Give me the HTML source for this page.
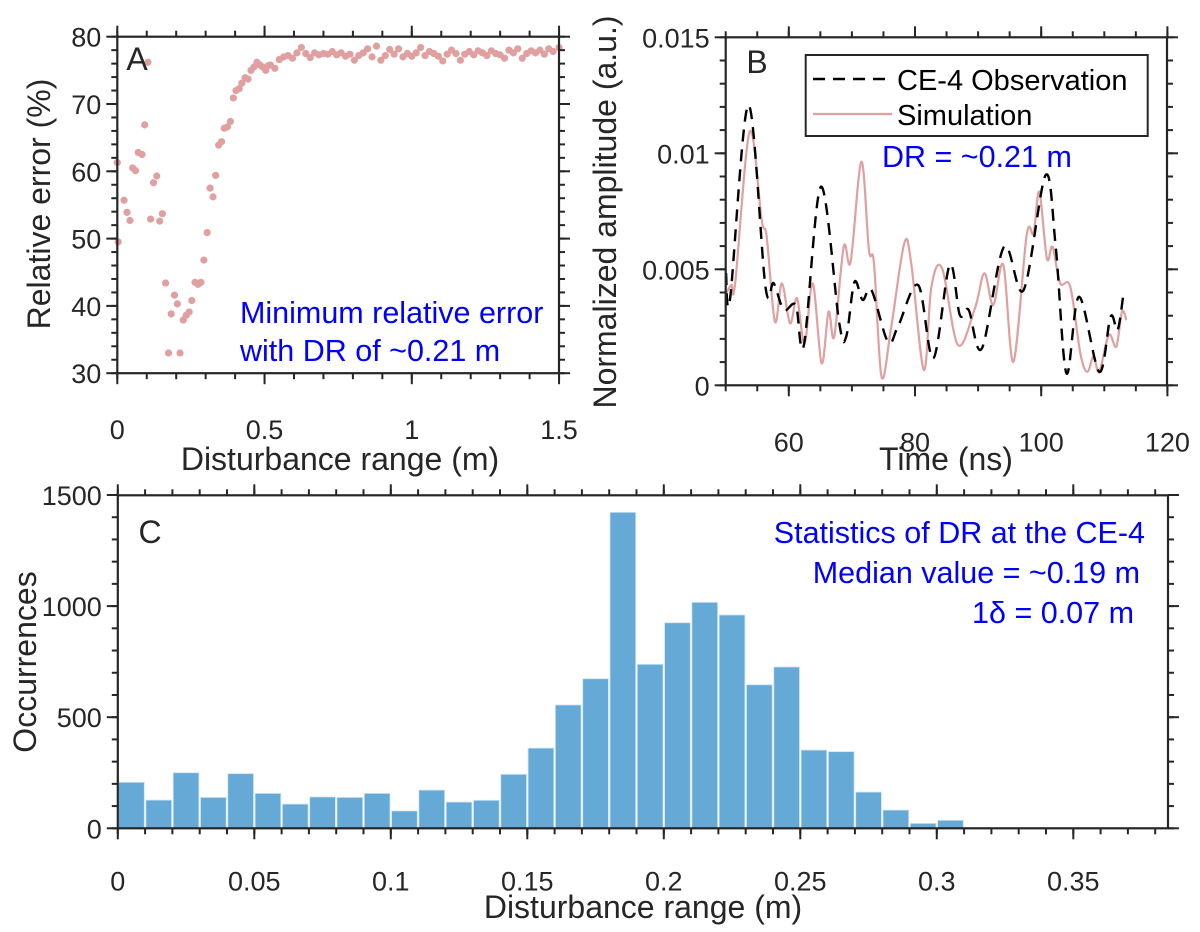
<!DOCTYPE html>
<html><head><meta charset="utf-8"><style>
html,body{margin:0;padding:0;background:#fff;}
svg{display:block;font-family:"Liberation Sans",Arial,sans-serif;}
</style></head><body>
<svg id="fig" width="1200" height="932" viewBox="0 0 1200 932"></svg>
<script>
// ---------- Panel A data ----------
const aX = [0.0,0.003,0.023,0.033,0.043,0.052,0.062,0.071,0.084,0.093,0.104,0.113,0.123,0.134,0.144,0.153,0.164,0.174,0.183,0.194,0.204,0.213,0.224,0.234,0.244,0.253,0.264,0.274,0.284,0.294,0.305,0.315,0.325,0.334,0.344,0.354,0.363,0.374,0.384,0.394,0.403,0.414,0.423,0.434,0.444,0.454,0.464,0.474,0.484,0.494,0.504,0.513,0.52,0.535,0.55,0.565,0.58,0.595,0.61,0.625,0.64,0.655,0.67,0.685,0.70,0.715,0.73,0.745,0.76,0.775,0.79,0.805,0.82,0.835,0.85,0.865,0.88,0.895,0.91,0.925,0.94,0.955,0.97,0.985,1.0,1.015,1.03,1.045,1.06,1.075,1.09,1.105,1.12,1.135,1.15,1.165,1.18,1.195,1.21,1.225,1.24,1.255,1.27,1.285,1.30,1.315,1.33,1.345,1.36,1.375,1.39,1.405,1.42,1.435,1.45,1.465,1.48,1.50];
const aY = [61.3,49.5,55.7,53.9,52.7,60.5,60.1,62.8,62.5,66.9,76.2,52.9,58.3,59.3,52.6,53.7,43.4,33.0,38.8,41.6,40.3,33.0,37.9,38.6,39.1,40.8,43.5,43.2,43.5,46.8,50.9,57.5,56.2,59.4,63.9,64.4,66.4,66.6,67.4,70.9,72.0,72.3,73.1,73.9,73.7,75.0,75.5,76.2,75.8,75.5,75.0,75.7,75.8,75.3,76.6,77.0,77.2,76.8,77.6,78.4,77.5,76.9,77.6,77.3,77.5,77.4,77.8,77.3,77.6,77.1,77.4,76.5,77.2,77.6,78.2,77.0,78.6,76.5,77.2,78.1,77.4,78.2,77.0,77.5,77.1,77.6,78.4,77.2,77.8,77.5,77.1,76.4,77.4,78.0,77.5,76.5,77.4,77.8,77.3,77.9,77.6,77.2,77.9,77.5,77.3,76.8,78.0,77.6,78.2,76.8,77.5,77.9,77.6,78.0,77.4,78.2,77.8,78.4];
const aXTicks = [0,0.5,1,1.5];
const aXTickLabels = ["0","0.5","1","1.5"];
const aYTicks = [30,40,50,60,70,80];
// ---------- Panel B data ----------
const obsT = [50.05,50.7,53.6,56.3,57.6,59.2,61.1,62.4,65.1,68.0,69.1,70.4,71.7,73.1,75.7,77.3,80.5,82.9,85.5,87.1,88.5,90.6,94.1,97.2,100.7,102.3,104.0,106.0,109.2,111.0,112.1,113.0];
const obsA = [0.00483,0.00375,0.01208,0.00425,0.0044,0.00325,0.00346,0.00174,0.00856,0.00267,0.0021,0.00445,0.00368,0.0041,0.00188,0.00253,0.00432,0.00116,0.00519,0.00303,0.00325,0.00159,0.00597,0.0041,0.00906,0.00597,0.00052,0.00382,0.00058,0.00296,0.00238,0.00387];
const simT = [50.05,50.9,51.5,53.8,55.7,56.5,57.8,58.9,60.2,61.3,62.5,63.8,65.2,66.3,67.2,68.7,69.8,71.5,72.7,73.5,74.7,76.2,78.3,79.4,81.4,82.6,84.3,86.8,89.5,91.0,92.4,94.0,95.6,97.7,98.8,99.7,100.9,101.8,103.0,104.6,106.2,107.3,108.3,109.2,110.7,111.9,112.8,113.5];
const simA = [0.00397,0.00433,0.0044,0.01093,0.00713,0.0064,0.00274,0.00439,0.00267,0.00375,0.00181,0.00439,0.00095,0.00317,0.0021,0.00597,0.00533,0.00964,0.00583,0.00526,0.00037,0.00246,0.00612,0.00526,0.00066,0.00425,0.00504,0.00174,0.00332,0.00483,0.00346,0.00519,0.00102,0.00648,0.00655,0.00834,0.00547,0.00597,0.0044,0.00425,0.00138,0.00058,0.00124,0.00058,0.00217,0.00167,0.00317,0.00281];
const bXTicks = [60,80,100,120];
const bYTicks = [0,0.005,0.01,0.015];
const bYTickLabels = ["0","0.005","0.01","0.015"];
// ---------- Panel C data ----------
const binStarts = [0,0.01,0.02,0.03,0.04,0.05,0.06,0.07,0.08,0.09,0.10,0.11,0.12,0.13,0.14,0.15,0.16,0.17,0.18,0.19,0.20,0.21,0.22,0.23,0.24,0.25,0.26,0.27,0.28,0.29,0.30];
const binCounts = [207,127,250,139,246,157,109,141,139,157,78,172,118,126,243,361,555,673,1422,738,925,1017,960,646,726,352,345,163,82,22,36];
const binWidth = 0.01;
const cXTicks = [0,0.05,0.1,0.15,0.2,0.25,0.3,0.35];
const cXTickLabels = ["0","0.05","0.1","0.15","0.2","0.25","0.3","0.35"];
const cYTicks = [0,500,1000,1500];

const NS="http://www.w3.org/2000/svg";
const svg=document.getElementById('fig');
function el(tag,attrs,parent){const e=document.createElementNS(NS,tag);for(const k in attrs)e.setAttribute(k,attrs[k]);(parent||svg).appendChild(e);return e;}
function txt(s,x,y,size,anchor,fill,parent,rot){const t=el('text',{x:x,y:y,'font-size':size,'text-anchor':anchor||'middle',fill:fill||'#262626'},parent);if(rot)t.setAttribute('transform','rotate(-90 '+x+' '+y+')');t.textContent=s;return t;}
const AX='#262626';
const TICK=27, LAB=32, ANN=30.5;

function axes(g,L,T,R,B,xmap,ymap,xt,xtl,yt,ytl,xminor,yminor,xoff){
  el('rect',{x:L,y:T,width:R-L,height:B-T,fill:'none',stroke:AX,'stroke-width':2.2},g);
  xminor.forEach(v=>{const x=xmap(v);el('line',{x1:x,y1:B,x2:x,y2:B+6,stroke:AX,'stroke-width':2},g);el('line',{x1:x,y1:T,x2:x,y2:T-6,stroke:AX,'stroke-width':2},g);});
  yminor.forEach(v=>{const y=ymap(v);el('line',{x1:L,y1:y,x2:L-6,y2:y,stroke:AX,'stroke-width':2},g);el('line',{x1:R,y1:y,x2:R+6,y2:y,stroke:AX,'stroke-width':2},g);});
  xt.forEach((v,i)=>{const x=xmap(v);el('line',{x1:x,y1:B,x2:x,y2:B+11,stroke:AX,'stroke-width':2},g);el('line',{x1:x,y1:T,x2:x,y2:T-11,stroke:AX,'stroke-width':2},g);
    const t=txt(xtl[i],x,B+xoff,TICK,'middle','#262626',g);});
  yt.forEach((v,i)=>{const y=ymap(v);el('line',{x1:L,y1:y,x2:L-11,y2:y,stroke:AX,'stroke-width':2},g);el('line',{x1:R,y1:y,x2:R+11,y2:y,stroke:AX,'stroke-width':2},g);
    const t=txt(ytl[i],L-16,y+10,TICK,'end','#262626',g);});
}
function range(a,b,s){const r=[];for(let v=a;v<=b+1e-9;v+=s)r.push(+v.toFixed(6));return r;}
function smoothPath(pts){let d='M'+pts[0][0]+','+pts[0][1];
  for(let i=0;i<pts.length-1;i++){const p0=pts[Math.max(i-1,0)],p1=pts[i],p2=pts[i+1],p3=pts[Math.min(i+2,pts.length-1)];
    const c1x=p1[0]+(p2[0]-p0[0])/6,c1y=p1[1]+(p2[1]-p0[1])/6,c2x=p2[0]-(p3[0]-p1[0])/6,c2y=p2[1]-(p3[1]-p1[1])/6;
    d+=' C'+c1x+','+c1y+' '+c2x+','+c2y+' '+p2[0]+','+p2[1];}
  return d;}

// ===== Panel A =====
const gA=el('g',{});


const xA=v=>117.3+v*294.5, yA=v=>36.7+(80-v)*6.73;
aX.forEach((x,i)=>{const c=el('circle',{cx:xA(x),cy:yA(aY[i]),r:3.6,fill:'#E0A09F'},gA);
  
  });
axes(gA,117.3,36.7,559,373.2,xA,yA,aXTicks,aXTickLabels,aYTicks,aYTicks.map(String),range(0,1.5,0.1),range(30,80,2),66);
txt('A',137,70,32,'middle','#262626',gA);
txt('Minimum relative error',240,323,ANN,'start','#0000FF',gA);
txt('with DR of ~0.21 m',240,361,ANN,'start','#0000FF',gA);
txt('Disturbance range (m)',340,470,LAB,'middle','#262626',gA);
txt('Relative error (%)',50,204,LAB,'middle','#262626',gA,true);

// ===== Panel B =====
const gB=el('g',{});


const xB=t=>725.7+(t-50)*6.31, yB=a=>385.3-a*23200;
const sim=el('path',{d:smoothPath(simT.map((t,i)=>[xB(t),yB(simA[i])])),fill:'none',stroke:'#E0A09F','stroke-width':2.2,'stroke-linejoin':'round'},gB);


const obs=el('path',{d:smoothPath(obsT.map((t,i)=>[xB(t),yB(obsA[i])])),fill:'none',stroke:'#000','stroke-width':2.4,'stroke-dasharray':'12,8','stroke-linejoin':'round'},gB);


axes(gB,725.7,37.3,1167,385.3,xB,yB,bXTicks,bXTicks.map(String),bYTicks,bYTickLabels,range(50,120,5),range(0,0.015,0.001),66);
txt('B',757,73,32,'middle','#262626',gB);
const leg=el('g',{},gB);


el('rect',{x:805.7,y:55,width:342,height:81,fill:'#fff',stroke:AX,'stroke-width':2},leg);
el('line',{x1:813,y1:79,x2:892,y2:79,stroke:'#000','stroke-width':2.4,'stroke-dasharray':'12,8'},leg);
el('line',{x1:813,y1:114,x2:892,y2:114,stroke:'#E0A09F','stroke-width':2.2},leg);
txt('CE-4 Observation',897,90,29,'start','#000',leg);
txt('Simulation',897,125,29,'start','#000',leg);
txt('DR = ~0.21 m',882,167,ANN,'start','#0000FF',gB);
txt('Time (ns)',946,470,LAB,'middle','#262626',gB);
txt('Normalized amplitude (a.u.)',616,212,LAB,'middle','#262626',gB,true);

// ===== Panel C =====
const gC=el('g',{});


const xC=v=>117.8+v*2730, yC=c=>828.3-c*0.2222;
binStarts.forEach((b,i)=>{const x0=xC(b)+0.8,x1=xC(b+binWidth)-0.8;
  const r=el('rect',{x:x0,y:yC(binCounts[i]),width:x1-x0,height:yC(0)-yC(binCounts[i]),fill:'#65A9D7',stroke:'#cfe3f2','stroke-width':0.8},gC);
  
  });
axes(gC,117.8,495.3,1168,828.3,xC,yC,cXTicks,cXTickLabels,cYTicks,cYTicks.map(String),range(0,0.38,0.01),range(0,1500,100),62);
txt('C',150,543,32,'middle','#262626',gC);
txt('Statistics of DR at the CE-4',1145,543,ANN,'end','#0000FF',gC);
txt('Median value = ~0.19 m',1140,583,ANN,'end','#0000FF',gC);
txt('1δ = 0.07 m',1134,623,ANN,'end','#0000FF',gC);
txt('Disturbance range (m)',643,918,LAB,'middle','#262626',gC);
txt('Occurrences',36,662,LAB,'middle','#262626',gC,true);
</script>
</body></html>
